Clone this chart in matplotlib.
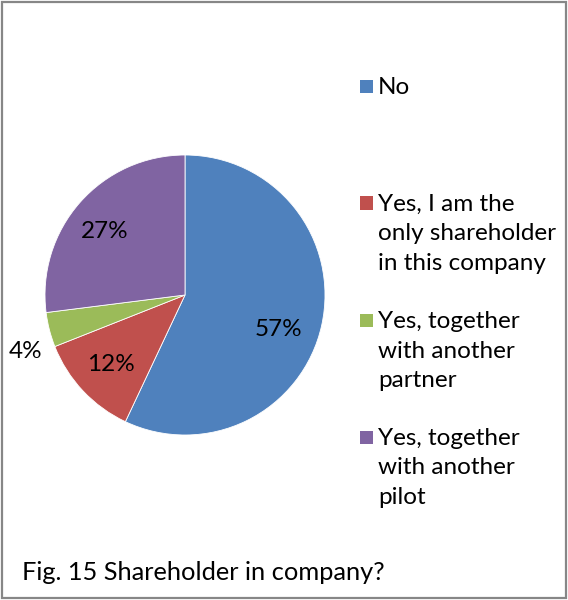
import matplotlib
matplotlib.use("Agg")
import matplotlib.pyplot as plt
from matplotlib.patches import Rectangle
import numpy as np

categories = ["No", "Yes, I am the\nonly shareholder\nin this company",
              "Yes, together\nwith another\npartner", "Yes, together\nwith another\npilot"]
values = [57, 12, 4, 27]
colors = ["#4F81BD", "#C0504D", "#9BBB59", "#8064A2"]
title = "Fig. 15 Shareholder in company?"

plt.rcParams['font.family'] = ['Lato', 'DejaVu Sans']
FS = 17.5

W, H = 568, 600
fig = plt.figure(figsize=(W / 100, H / 100), dpi=100)

def fx(x):
    return x / W

def fy(y):
    return 1 - y / H

# border
fig.patches.append(Rectangle((fx(2), fy(598)), fx(564), (596) / H, transform=fig.transFigure,
                             fill=False, edgecolor="#878787", linewidth=1.6))

cx, cy, r = 185, 295, 140
ax = fig.add_axes([fx(cx - r), fy(cy + r), fx(2 * r), 2 * r / H])
wedges, texts, autotexts = ax.pie(values, colors=colors, startangle=90, counterclock=False,
                                  autopct=lambda p: f"{p:.0f}%", pctdistance=0.72,
                                  wedgeprops=dict(linewidth=0.6, edgecolor="white"),
                                  textprops=dict(fontsize=FS, color="black"))
ax.set_xlim(-1, 1)
ax.set_ylim(-1, 1)
ax.set_aspect('auto')

# label placement (best-fit style)
dist = [0.71, 0.73, 1.21, 0.73]
shift = [-8, 0, 5, 3]
for w, t, d, s in zip(wedges, autotexts, dist, shift):
    ang = np.deg2rad((w.theta1 + w.theta2) / 2 + s)
    t.set_position((d * np.cos(ang), d * np.sin(ang)))
    t.set_ha('center')
    t.set_va('center')

# legend
y0, dy = 86, 117
for i, (lab, c) in enumerate(zip(categories, colors)):
    yy = y0 + dy * i
    fig.patches.append(Rectangle((fx(360), fy(yy + 6.5)), fx(13), 13 / H,
                                 transform=fig.transFigure, facecolor=c, edgecolor='none'))
    fig.text(fx(378), fy(yy - 9), lab, fontsize=FS, ha='left', va='top', linespacing=1.5)

fig.text(fx(22), fy(573), title, fontsize=18.3, ha='left', va='center')

fig.savefig("out.png", dpi=100)
